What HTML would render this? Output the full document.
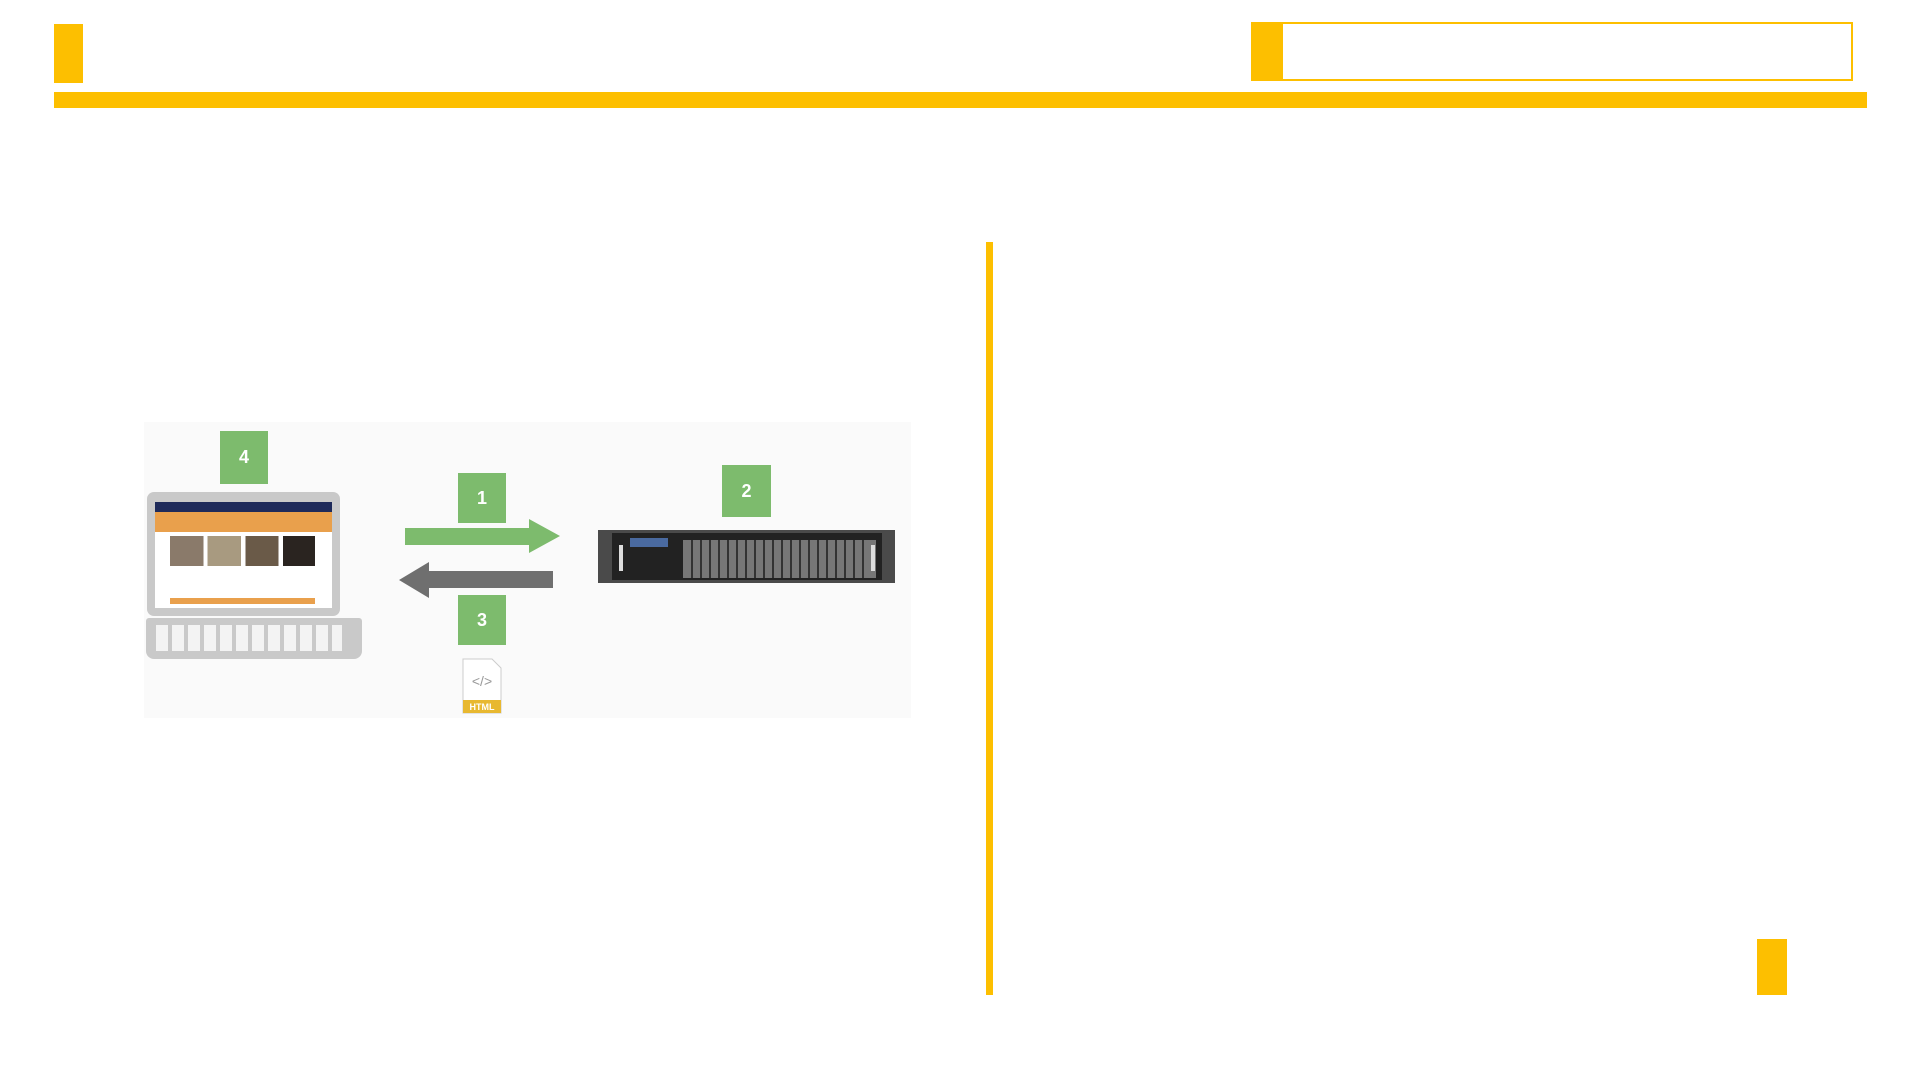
<!DOCTYPE html>
<html><head><style>
body{margin:0;width:1920px;height:1080px;background:#fff;position:relative;overflow:hidden;font-family:"Liberation Sans",sans-serif}
div{position:absolute;box-sizing:border-box}
.y{background:#fdbf00}
.g{background:#7dbb6d;color:#fff;font-weight:bold;font-size:18px;display:flex;align-items:center;justify-content:center}
</style></head><body>
<div class="y" style="left:54px;top:24px;width:29px;height:59px"></div>
<div class="y" style="left:54px;top:92px;width:1813px;height:16px"></div>
<div class="y" style="left:1251px;top:22px;width:30px;height:59px"></div>
<div style="left:1281px;top:22px;width:572px;height:59px;border:2px solid #fdbf00"></div>
<div class="y" style="left:986px;top:242px;width:7px;height:753px"></div>
<div class="y" style="left:1757px;top:939px;width:30px;height:56px"></div>
<div style="left:144px;top:422px;width:767px;height:296px;background:#fafafa"></div>
<!-- laptop -->
<div style="left:147px;top:492px;width:193px;height:124px;background:#c9c9c9;border-radius:7px"></div>
<div style="left:155px;top:502px;width:177px;height:106px;background:#fff"></div>
<div style="left:155px;top:502px;width:177px;height:10px;background:#1e2a5a"></div>
<div style="left:155px;top:512px;width:177px;height:20px;background:#e9a04c"></div>
<div style="left:170px;top:536px;width:145px;height:30px;background:linear-gradient(90deg,#8a7a6a 0 23%,#fff 23% 26%,#a89a80 26% 49%,#fff 49% 52%,#6a5a48 52% 75%,#fff 75% 78%,#2a2420 78%)"></div>
<div style="left:170px;top:598px;width:145px;height:6px;background:#e9a04c"></div>
<div style="left:146px;top:618px;width:216px;height:41px;background:#c9c9c9;border-radius:3px 3px 8px 8px"></div>
<div style="left:156px;top:625px;width:186px;height:26px;background:repeating-linear-gradient(90deg,#f3f3f3 0 12px,transparent 12px 16px)"></div>
<!-- boxes -->
<div class="g" style="left:220px;top:431px;width:48px;height:53px">4</div>
<div class="g" style="left:458px;top:473px;width:48px;height:50px">1</div>
<div class="g" style="left:722px;top:465px;width:49px;height:52px">2</div>
<div class="g" style="left:458px;top:595px;width:48px;height:50px">3</div>
<svg style="position:absolute;left:0;top:0" width="1920" height="1080">
<polygon points="405,528 529,528 529,519 560,536 529,553 529,545 405,545" fill="#7dbb6d"/>
<polygon points="553,571 429,571 429,562 399,580 429,598 429,588 553,588" fill="#6f6f6f"/>
<rect x="598" y="530" width="297" height="53" fill="#4a4a4a"/>
<rect x="612" y="533" width="270" height="47" fill="#222"/>
<rect x="630" y="538" width="38" height="9" fill="#4a6aa0"/>
<rect x="683" y="540" width="193" height="38" fill="#777"/>
<g stroke="#333" stroke-width="2"><path d="M692 540V578M701 540V578M710 540V578M719 540V578M728 540V578M737 540V578M746 540V578M755 540V578M764 540V578M773 540V578M782 540V578M791 540V578M800 540V578M809 540V578M818 540V578M827 540V578M836 540V578M845 540V578M854 540V578M863 540V578"/></g>
<rect x="619" y="545" width="4" height="26" fill="#ddd"/><rect x="871" y="545" width="4" height="26" fill="#ddd"/>
<path d="M463 659H492L501 668V713H463Z" fill="#fff" stroke="#ccc"/>
<rect x="463" y="700" width="38" height="13" fill="#e8b830"/>
<text x="482" y="710" font-size="9" fill="#fff" text-anchor="middle" font-weight="bold" font-family="Liberation Sans">HTML</text>
<text x="482" y="686" font-size="14" fill="#999" text-anchor="middle" font-family="Liberation Sans">&lt;/&gt;</text>
</svg>
</body></html>
